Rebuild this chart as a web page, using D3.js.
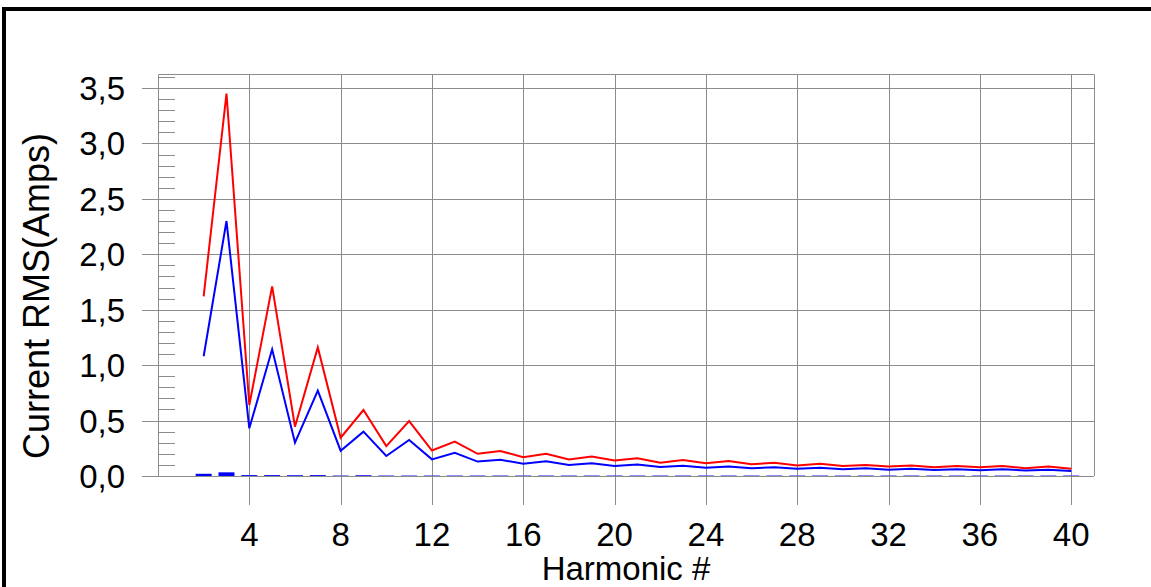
<!DOCTYPE html>
<html>
<head>
<meta charset="utf-8">
<script src="https://cdn.jsdelivr.net/npm/d3@7"></script>
<style>
  body { margin: 0; background: #fff; }
  svg { display: block; font-family: "Liberation Sans", Arial, sans-serif; }
</style>
</head>
<body>
<svg id="chart"></svg>
<script>
// harmonic numbers 2..40
var harmonics = d3.range(2, 41);

// phase current, red
var redValues = [1.62, 3.45, 0.64, 1.71, 0.445, 1.16, 0.345, 0.595, 0.27, 0.495,
                 0.23, 0.31, 0.20, 0.225, 0.17, 0.20, 0.15, 0.175, 0.14, 0.16,
                 0.12, 0.145, 0.115, 0.135, 0.105, 0.12, 0.095, 0.11, 0.09, 0.10,
                 0.085, 0.095, 0.08, 0.09, 0.078, 0.09, 0.07, 0.085, 0.066];

// phase current, blue
var blueValues = [1.08, 2.30, 0.43, 1.143, 0.30, 0.77, 0.228, 0.40, 0.18, 0.325,
                  0.15, 0.21, 0.13, 0.147, 0.11, 0.133, 0.10, 0.115, 0.09, 0.103,
                  0.081, 0.093, 0.075, 0.086, 0.07, 0.08, 0.065, 0.075, 0.06, 0.07,
                  0.057, 0.065, 0.055, 0.062, 0.052, 0.06, 0.05, 0.056, 0.045];

// tiny blue bars sitting on the zero line
var barValues = [0.02, 0.033, 0.008, 0.008, 0.007, 0.008, 0.004, 0.007, 0.004, 0.004,
                 0.004, 0.004, 0.004, 0.004, 0.004, 0.004, 0.004, 0.004, 0.004, 0.004,
                 0.004, 0.004, 0.004, 0.004, 0.004, 0.004, 0.004, 0.004, 0.004, 0.004,
                 0.004, 0.004, 0.004, 0.004, 0.004, 0.004, 0.004, 0.004, 0.004];

var xTicks = [4, 8, 12, 16, 20, 24, 28, 32, 36, 40];
var yTicks = [0, 0.5, 1.0, 1.5, 2.0, 2.5, 3.0, 3.5];
var yTitle = "Current RMS(Amps)";
var xTitle = "Harmonic #";

var W = 1151, H = 587;
var pLeft = 158, pTop = 74, pRight = 1094, pBottom = 476;

var svg = d3.select("#chart").attr("width", W).attr("height", H);
svg.append("rect").attr("width", W).attr("height", H).attr("fill", "#fff");

var x = d3.scaleLinear().domain([0, 41]).range([pLeft, pRight]);
var y = d3.scaleLinear().domain([0, 3.5]).range([pBottom, 88]);

var grid = svg.append("g").attr("stroke", "#8c8c8c").attr("stroke-width", 1);

// plot frame (left, top, right)
grid.append("path")
    .attr("fill", "none")
    .attr("d", "M" + (pLeft + 0.5) + "," + pBottom + "V" + (pTop + 0.5) + "H" + (pRight + 0.5) + "V" + pBottom);

// minor ticks every 0.1 on the left side
var minors = d3.range(1, 37).map(function(i){ return i / 10; })
    .filter(function(v){ return Math.round(v * 10) % 5 != 0; });
grid.selectAll("line.minor")
    .data(minors)
    .enter().append("line")
    .attr("class", "minor")
    .attr("x1", pLeft).attr("x2", pLeft + 17)
    .attr("y1", function(d){ return Math.round(y(d)) + 0.5; })
    .attr("y2", function(d){ return Math.round(y(d)) + 0.5; });

// horizontal grid
grid.selectAll("line.hgrid")
    .data(yTicks)
    .enter().append("line")
    .attr("class", "hgrid")
    .attr("x1", 142).attr("x2", pRight)
    .attr("y1", function(d){ return Math.round(y(d)) + 0.5; })
    .attr("y2", function(d){ return Math.round(y(d)) + 0.5; });

// vertical grid, running down past the zero line
grid.selectAll("line.vgrid")
    .data(xTicks)
    .enter().append("line")
    .attr("class", "vgrid")
    .attr("x1", function(d){ return Math.round(x(d)) + 0.5; })
    .attr("x2", function(d){ return Math.round(x(d)) + 0.5; })
    .attr("y1", pTop).attr("y2", 505);

// small bars
var bw = (x(1) - x(0)) * 0.7;
svg.selectAll("rect.bar")
    .data(harmonics)
    .enter().append("rect")
    .attr("class", "bar")
    .attr("x", function(d){ return x(d) - bw / 2; })
    .attr("width", bw)
    .attr("y", function(d, i){ return y(barValues[i]); })
    .attr("height", function(d, i){ return y(0) - y(barValues[i]); })
    .attr("fill", "#0000ff");

var line = d3.line()
    .x(function(d){ return x(d[0]); })
    .y(function(d){ return y(d[1]); });

svg.append("path")
    .datum(d3.zip(harmonics, blueValues))
    .attr("fill", "none").attr("stroke", "#0000ff").attr("stroke-width", 2)
    .attr("d", line);

svg.append("path")
    .datum(d3.zip(harmonics, redValues))
    .attr("fill", "none").attr("stroke", "#ff0000").attr("stroke-width", 2)
    .attr("d", line);

// tick labels
svg.selectAll("text.ylab")
    .data(yTicks)
    .enter().append("text")
    .attr("class", "ylab")
    .attr("x", 125)
    .attr("y", function(d){ return y(d) + 12; })
    .attr("text-anchor", "end")
    .attr("font-size", 33)
    .text(function(d){ return d3.format(".1f")(d).replace(".", ","); });

svg.selectAll("text.xlab")
    .data(xTicks)
    .enter().append("text")
    .attr("class", "xlab")
    .attr("x", function(d){ return x(d); })
    .attr("y", 546)
    .attr("text-anchor", "middle")
    .attr("font-size", 33)
    .text(function(d){ return d; });

// axis titles
svg.append("text")
    .attr("transform", "translate(49," + 296 + ") rotate(-90)")
    .attr("text-anchor", "middle")
    .attr("font-size", 36)
    .text(yTitle);

svg.append("text")
    .attr("x", 626)
    .attr("y", 580)
    .attr("text-anchor", "middle")
    .attr("font-size", 33)
    .text(xTitle);

// outer black frame (left and top only)
svg.append("path")
    .attr("fill", "none")
    .attr("stroke", "#000")
    .attr("stroke-width", 4)
    .attr("d", "M4," + H + "V9H" + W);
</script>
</body>
</html>
